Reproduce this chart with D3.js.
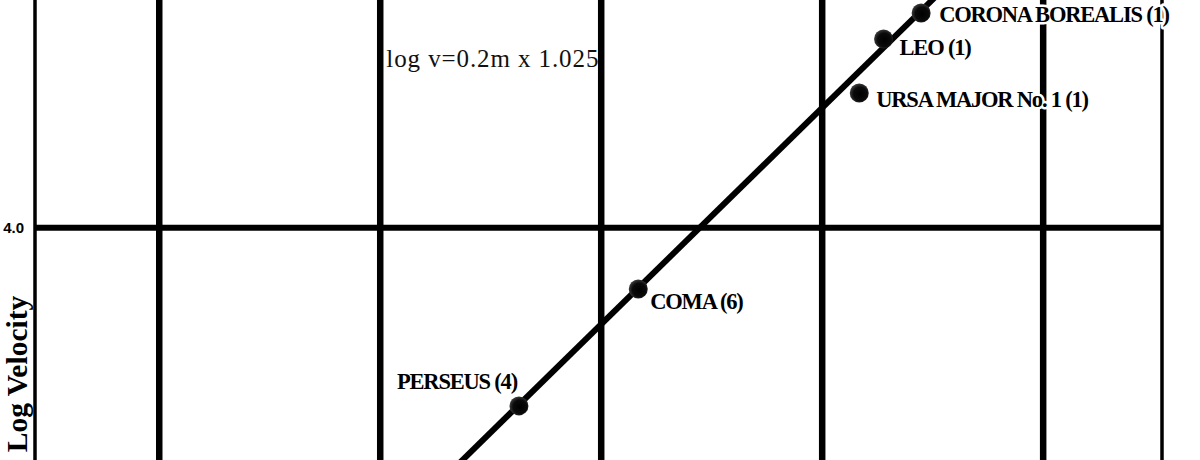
<!DOCTYPE html>
<html>
<head>
<meta charset="utf-8">
<script src="https://cdn.jsdelivr.net/npm/d3@7"></script>
<style>
  html, body { margin: 0; padding: 0; background: #fff; }
  svg { display: block; }
</style>
</head>
<body>
<div id="chart"></div>
<script>
// ---- data ----
const magTicks = [12, 13, 14, 15, 16];          // vertical grid (apparent magnitude)
const logTicks = [4.0];                          // horizontal grid (log velocity)
const logTickLabels = ["4.0"];
const clusters = ["CORONA BOREALIS (1)", "LEO (1)", "URSA MAJOR No. 1 (1)", "COMA (6)", "PERSEUS (4)"];
const magnitudes = [15.45, 15.28, 15.17, 14.17, 13.63];
const logVelocities = [4.198, 4.174, 4.124, 3.943, 3.835];
const fitSlope = 0.2;
const fitIntercept = 1.11;
const equationText = "log v=0.2m x 1.025";
const equationPos = [13.03, 4.148];
const yTitle = "Log Velocity";

// ---- layout ----
const W = 1200, H = 460;
const margin = { top: 0, right: 38, bottom: 0, left: 35 };
const labelLayout = [
  { dx: 18, dy: 9, anchor: "start" },
  { dx: 16, dy: 16, anchor: "start" },
  { dx: 17, dy: 14, anchor: "start" },
  { dx: 12, dy: 20, anchor: "start" },
  { dx: -2, dy: -17, anchor: "end" }
];

const svg = d3.select("#chart").append("svg").attr("width", W).attr("height", H);
const defs = svg.append("defs");
const grad = defs.append("radialGradient").attr("id", "dotGrad").attr("cx", "55%").attr("cy", "55%").attr("r", "55%");
grad.append("stop").attr("offset", "0%").attr("stop-color", "#000");
grad.append("stop").attr("offset", "65%").attr("stop-color", "#0a0a0a");
grad.append("stop").attr("offset", "100%").attr("stop-color", "#3a3a3a");

const x = d3.scaleLinear().domain([11.44, 16.54]).range([margin.left, W - margin.right]);
const y = d3.scaleLinear().domain([3.785, 4.21]).range([H - margin.bottom, margin.top]);
const [x0, x1] = x.range();
const [yb, yt] = y.range();

const clip = defs.append("clipPath").attr("id", "plotClip");
clip.append("rect").attr("x", x0).attr("y", yt).attr("width", x1 - x0).attr("height", yb - yt);

// vertical grid via axis
const gx = svg.append("g").attr("transform", `translate(0,${yt})`)
  .call(d3.axisTop(x).tickValues(magTicks).tickSize(-(yb - yt)).tickFormat(""));
gx.select(".domain").remove();
gx.selectAll(".tick line").attr("stroke", "#000").attr("stroke-width", 6.5);

// horizontal grid via axis
const gy = svg.append("g").attr("transform", `translate(${x0},0)`)
  .call(d3.axisLeft(y).tickValues(logTicks).tickSize(-(x1 - x0)).tickPadding(11)
    .tickFormat((d, i) => logTickLabels[i]));
gy.select(".domain").remove();
gy.selectAll(".tick line").attr("stroke", "#000").attr("stroke-width", 6);
gy.selectAll(".tick text")
  .attr("font-family", "'Liberation Sans', Arial, sans-serif")
  .attr("font-weight", "bold").attr("font-size", 15).attr("fill", "#000");

// frame sides
svg.append("g").selectAll("line").data([x0, x1]).join("line")
  .attr("x1", d => d).attr("x2", d => d).attr("y1", yt).attr("y2", yb)
  .attr("stroke", "#000").attr("stroke-width", 3.5);

// regression line
const mDom = x.domain();
svg.append("g").attr("clip-path", "url(#plotClip)")
  .append("line")
  .attr("x1", x(mDom[0])).attr("y1", y(fitSlope * mDom[0] + fitIntercept))
  .attr("x2", x(mDom[1])).attr("y2", y(fitSlope * mDom[1] + fitIntercept))
  .attr("stroke", "#000").attr("stroke-width", 6);

// points
const pts = clusters.map((name, i) => ({ name, m: magnitudes[i], lv: logVelocities[i], lay: labelLayout[i] }));
svg.append("g").selectAll("circle").data(pts).join("circle")
  .attr("cx", d => x(d.m)).attr("cy", d => y(d.lv)).attr("r", 9.5)
  .attr("fill", "url(#dotGrad)");

// labels
svg.append("g").selectAll("text").data(pts).join("text")
  .attr("x", d => x(d.m) + d.lay.dx).attr("y", d => y(d.lv) + d.lay.dy)
  .attr("text-anchor", d => d.lay.anchor)
  .attr("font-family", "'Liberation Serif', 'Times New Roman', serif")
  .attr("font-weight", "bold").attr("font-size", 22.5).attr("letter-spacing", -1.2)
  .attr("fill", "#000")
  .attr("stroke", "#fff").attr("stroke-width", 5).attr("stroke-linejoin", "round")
  .attr("paint-order", "stroke")
  .text(d => d.name);

// equation
svg.append("text")
  .attr("x", x(equationPos[0])).attr("y", y(equationPos[1]))
  .attr("font-family", "'Liberation Serif', 'Times New Roman', serif")
  .attr("font-size", 25).attr("letter-spacing", 0.9).attr("fill", "#111")
  .text(equationText);

// y title
svg.append("text")
  .attr("transform", `translate(${x0 - 8},${(yt + yb) / 2 + 144}) rotate(-90)`)
  .attr("text-anchor", "middle")
  .attr("font-family", "'Liberation Serif', 'Times New Roman', serif")
  .attr("font-weight", "bold").attr("font-size", 29.5).attr("letter-spacing", 0).attr("fill", "#000")
  .text(yTitle);
</script>
</body>
</html>
